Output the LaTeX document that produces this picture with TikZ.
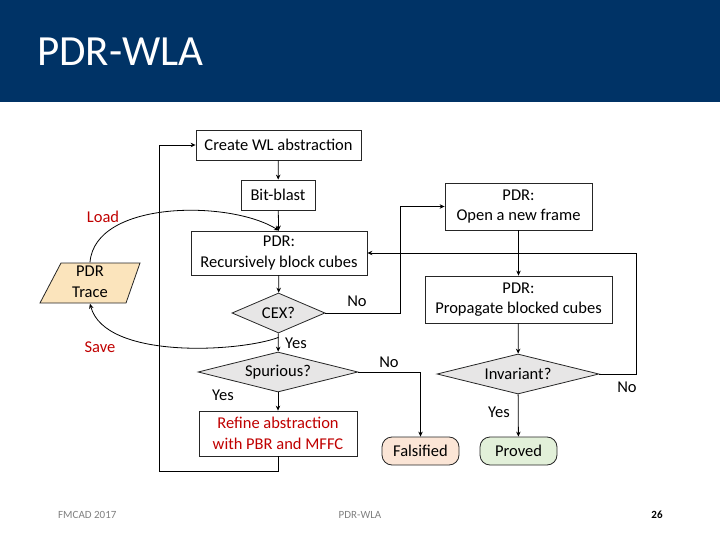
\documentclass[tikz,border=0pt]{standalone}
\usepackage{fontspec}
\setmainfont{Carlito}
\usetikzlibrary{shapes.geometric,arrows.meta}
\definecolor{hdr}{RGB}{0,51,102}
\definecolor{dgray}{RGB}{231,230,230}
\definecolor{tracefill}{RGB}{251,228,188}
\definecolor{falfill}{RGB}{251,229,214}
\definecolor{provfill}{RGB}{226,240,217}
\definecolor{darkred}{RGB}{192,0,0}
\definecolor{footgray}{RGB}{128,128,128}
\tikzset{
  box/.style={draw=black!85, line width=0.8pt, fill=white, inner sep=0pt, align=center, font=\fontsize{16.5}{20.5}\selectfont},
  dia/.style={diamond, draw=black!85, line width=0.8pt, fill=dgray, inner sep=0pt, aspect=4, font=\fontsize{16.5}{20.5}\selectfont},
  term/.style={draw=black!85, line width=0.8pt, rounded corners=10pt, inner sep=0pt, font=\fontsize{16.5}{20.5}\selectfont},
  conn/.style={line width=0.8pt, -{Stealth[length=5pt,width=4.5pt]}},
  lbl/.style={font=\fontsize{16.5}{20.5}\selectfont, inner sep=0pt},
  redlbl/.style={font=\fontsize{16.5}{20.5}\selectfont, text=darkred, inner sep=0pt},
  foot/.style={font=\fontsize{11}{13}\selectfont, inner sep=0pt}
}
\begin{document}
\begin{tikzpicture}[x=1pt,y=-1pt]
\useasboundingbox (0,0) rectangle (720,540);
\fill[hdr] (0,0) rectangle (720,102);
\node[anchor=base west, text=white, inner sep=0pt, font=\fontsize{43}{50}\selectfont] (title) at (37,66) {PDR-WLA};

% nodes
\node[box, minimum width=165pt, minimum height=30pt] (cwl) at (278.5,145) {Create WL abstraction};
\node[box, minimum width=74pt, minimum height=30pt] (bb) at (278,195) {Bit-blast};
\node[box, minimum width=176pt, minimum height=44pt] (rec) at (279,253) {PDR:\\Recursively block cubes};
\node[dia, aspect=2.3, minimum width=93pt, minimum height=40pt] (cex) at (278.5,313) {CEX?};
\node[dia, minimum width=160pt, minimum height=40pt] (spur) at (278,372) {Spurious?};
\node[box, text=darkred, minimum width=158pt, minimum height=45pt] (ref) at (278,433.5) {Refine abstraction\\with PBR and MFFC};
\node[term, fill=falfill, minimum width=77pt, minimum height=28pt] (fal) at (420.5,451) {Falsified};
\node[term, fill=provfill, minimum width=77pt, minimum height=28pt] (prov) at (518.5,451) {Proved};
\node[dia, minimum width=162pt, minimum height=40pt] (inv) at (518,374) {Invariant?};
\node[box, minimum width=147pt, minimum height=47pt] (open) at (518.5,206.5) {PDR:\\Open a new frame};
\node[box, minimum width=187pt, minimum height=47pt] (prop) at (518.5,299.5) {PDR:\\Propagate blocked cubes};

% trace parallelogram
\fill[tracefill] (61,263) -- (140,263) -- (126,303) -- (40,303) -- cycle;
\draw[black!85, line width=0.8pt] (61,263) -- (140,263) -- (126,303) -- (40,303) -- cycle;
\node[lbl, align=center, minimum width=80pt, minimum height=40pt] (trace) at (90,283) {\raisebox{-1pt}{\begin{tabular}{@{}c@{}}PDR\\Trace\end{tabular}}};

% coordinates for loops
\coordinate (rloop) at (636,374);
\coordinate (lloop) at (159,471);
\coordinate (cexr) at (400,313);

% connectors
\draw[conn] (cwl) -- (bb);
\draw[conn] (bb) -- (rec);
\draw[conn] (rec) -- (cex);
\draw[conn] (cex) -- (spur);
\draw[conn] (cex.east) -- (cexr) |- (open.west);
\draw[conn] (open) -- (prop);
\draw[conn] (prop) -- (inv);
\draw[conn] (inv.east) -- (rloop) |- (rec.east);
\draw[conn] (inv) -- (prov);
\draw[conn] (spur.east) -| (fal.north);
\draw[conn] (spur) -- (ref);
\draw[conn] (ref.south) |- (lloop) |- (cwl.west);
\draw[conn] (trace.north) .. controls (95,200) and (230,200) .. (rec.north);
\draw[conn] ([yshift=-4pt]cex.south) .. controls (240,352) and (105,360) .. (trace.south);

% labels
\node[lbl] (lno1) at (357,301) {No};
\node[lbl] (lyes1) at (296,343) {Yes};
\node[lbl] (lno2) at (389,362) {No};
\node[lbl] (lyes2) at (223,395) {Yes};
\node[lbl] (lno3) at (627,387) {No};
\node[lbl] (lyes3) at (499,412) {Yes};
\node[redlbl] (load) at (103,217) {Load};
\node[redlbl] (save) at (100,347) {Save};

% footer
\node[foot, text=footgray, anchor=west] (f1) at (58,515) {FMCAD 2017};
\node[foot, text=footgray] (f2) at (360,515) {PDR-WLA};
\node[foot, text=black, font=\fontsize{11}{13}\selectfont\bfseries] (f3) at (657,515) {26};
\end{tikzpicture}
\end{document}
